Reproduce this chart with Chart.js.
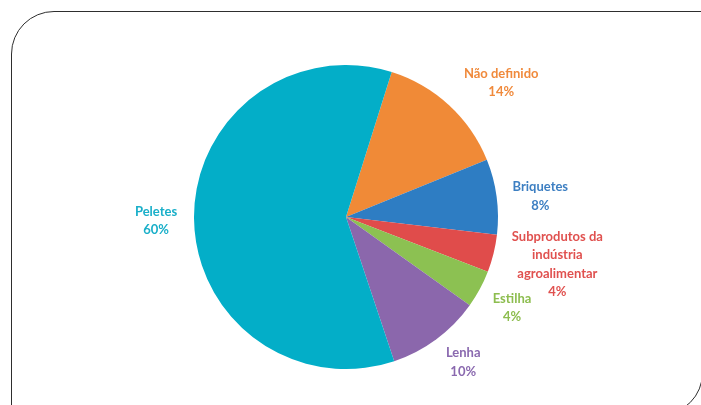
<!DOCTYPE html>
<html>
<head>
<meta charset="utf-8">
<script src="https://cdn.jsdelivr.net/npm/chart.js@4/dist/chart.umd.min.js"></script>
<style>
  html, body { margin: 0; padding: 0; background: #fff; overflow: hidden; }
  #wrap { position: relative; width: 701px; height: 405px; overflow: hidden; }
  #frame {
    position: absolute; left: 11px; top: 11px; width: 692px; height: 404px;
    box-sizing: border-box; border: 1.5px solid #2e2e2e;
    border-top-left-radius: 43px; border-bottom-right-radius: 42px;
    pointer-events: none;
  }
  canvas { position: absolute; left: 0; top: 0; }
</style>
</head>
<body>
<div id="wrap">
  <div id="frame"></div>
  <canvas id="c" width="701" height="405"></canvas>
</div>
<script>
// Data
const categories = ["Não definido", "Briquetes", "Subprodutos da indústria agroalimentar", "Estilha", "Lenha", "Peletes"];
const labelLines = [["Não definido"], ["Briquetes"], ["Subprodutos da", "indústria", "agroalimentar"], ["Estilha"], ["Lenha"], ["Peletes"]];
const values = [14, 8, 4, 4, 10, 60];
const percentLabels = ["14%", "8%", "4%", "4%", "10%", "60%"];

// Styles
const sliceColors = ["#F08A37", "#2E7DC3", "#E04C4B", "#8CC152", "#8B67AC", "#03AEC8"];
const textColors  = ["#F08A3C", "#3D7FC2", "#E0514F", "#8DBD4F", "#8A69AF", "#19AFC9"];
const labelNudge = [[25, 7], [4, 5], [25, 1], [-3, 0], [3, -9], [2, 2]];

const labelPlugin = {
  id: 'outLabels',
  afterDatasetsDraw(chart) {
    const ctx = chart.ctx;
    const meta = chart.getDatasetMeta(0);
    ctx.save();
    ctx.font = 'bold 13px Lato, "Open Sans", sans-serif';
    ctx.textAlign = 'center';
    ctx.textBaseline = 'middle';
    const lh = 18.5;
    meta.data.forEach((arc, i) => {
      const p = arc.getProps(['x', 'y', 'startAngle', 'endAngle', 'outerRadius'], true);
      const mid = (p.startAngle + p.endAngle) / 2;
      const d = p.outerRadius + 40;
      const cx = p.x + Math.cos(mid) * d + labelNudge[i][0];
      const cy = p.y + Math.sin(mid) * d + labelNudge[i][1];
      const lines = labelLines[i].concat([percentLabels[i]]);
      const top = cy - (lines.length - 1) * lh / 2;
      ctx.fillStyle = textColors[i];
      lines.forEach((t, k) => ctx.fillText(t, cx, top + k * lh));
    });
    ctx.restore();
  }
};

new Chart(document.getElementById('c'), {
  type: 'pie',
  data: {
    labels: categories,
    datasets: [{
      data: values,
      backgroundColor: sliceColors,
      borderWidth: 0
    }]
  },
  options: {
    responsive: false,
    animation: false,
    rotation: 17.5,
    layout: { padding: { left: 0, right: 9, top: 65, bottom: 36 } },
    plugins: { legend: { display: false }, tooltip: { enabled: false } }
  },
  plugins: [labelPlugin]
});
</script>
</body>
</html>
